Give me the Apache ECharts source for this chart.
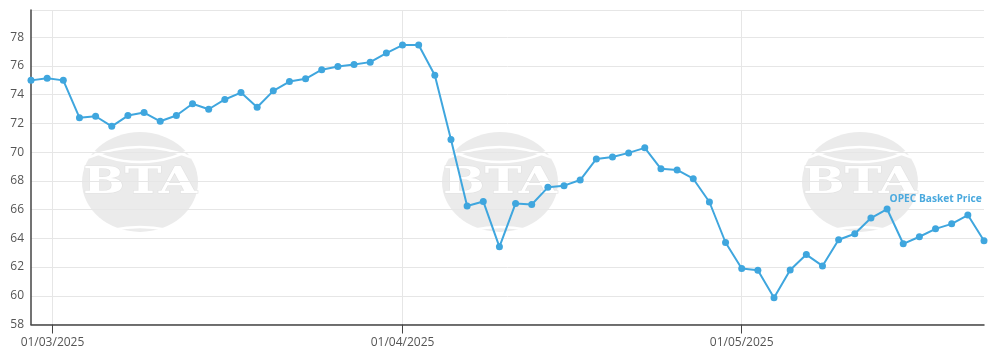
<!DOCTYPE html>
<html>
<head>
<meta charset="utf-8">
<script src="https://cdn.jsdelivr.net/npm/echarts@6/dist/echarts.min.js"></script>
<style>html,body{margin:0;padding:0;background:#fff}#c{width:1000px;height:362px}</style>
</head>
<body>
<div id="c"></div>
<script>
// Trading days (index positions) and OPEC basket price values
const seriesName = 'OPEC Basket Price';
const prices = [
  75.0, 75.15, 75.0, 72.4, 72.5, 71.8, 72.55, 72.76, 72.15, 72.55,
  73.37, 72.99, 73.67, 74.15, 73.13, 74.27, 74.92, 75.11, 75.74, 75.97,
  76.11, 76.27, 76.9, 77.46, 77.46, 75.36, 70.88, 66.25, 66.57, 63.41,
  66.43, 66.36, 67.55, 67.67, 68.06, 69.53, 69.67, 69.95, 70.3, 68.84,
  68.76, 68.15, 66.53, 63.71, 61.9, 61.78, 59.87, 61.8, 62.87, 62.08,
  63.9, 64.32, 65.41, 66.04, 63.62, 64.11, 64.66, 65.01, 65.62, 63.83
];
// Month tick labels and their positions on the trading-day (ordinal) scale
const tickLabels = ['01/03/2025', '01/04/2025', '01/05/2025'];
const tickIndex = [1.33, 23, 44];
const yTicks = [58, 60, 62, 64, 66, 68, 70, 72, 74, 76, 78];

const lineColor = '#3fa6de';
const labelPoint = 53;

const data = prices.map((v, i) => {
  const d = { value: [i, v] };
  if (i === labelPoint) {
    d.label = {
      show: true, formatter: seriesName, position: [6, -11],
      color: '#4aa9de', fontWeight: 'bold', fontSize: 10.2,
      fontFamily: 'Open Sans'
    };
  }
  return d;
});

function watermark(cx) {
  return {
    type: 'group', x: cx, y: 182, silent: true, z: -10,
    children: [
      { type: 'group', scaleY: 0.86, children: [
        { type: 'circle', shape: { cx: 0, cy: 0, r: 58 }, style: { fill: '#ebebeb' } }
      ]},
      { type: 'arc', shape: { cx: 0, cy: 95, r: 130, startAngle: Math.PI * 1.37, endAngle: Math.PI * 1.63 },
        style: { stroke: '#ffffff', lineWidth: 2.5, fill: null } },
      { type: 'arc', shape: { cx: 0, cy: -130, r: 110, startAngle: Math.PI * 0.31, endAngle: Math.PI * 0.69 },
        style: { stroke: '#ffffff', lineWidth: 2.5, fill: null } },
      { type: 'arc', shape: { cx: 0, cy: 175, r: 130, startAngle: Math.PI * 1.37, endAngle: Math.PI * 1.63 },
        style: { stroke: '#ffffff', lineWidth: 2.5, fill: null } },
      { type: 'group', scaleX: 1.3, children: [
        { type: 'text', x: 0, y: 1, style: {
          text: 'BTA', fill: '#ffffff', stroke: '#e2e2e2', lineWidth: 1,
          font: 'bold 38px "DejaVu Serif"', align: 'center', verticalAlign: 'middle'
        } }
      ]}
    ]
  };
}

const chart = echarts.init(document.getElementById('c'), null, { renderer: 'canvas' });
chart.setOption({
  animation: false,
  backgroundColor: '#ffffff',
  graphic: [watermark(140), watermark(500), watermark(860)],
  grid: { left: 31, right: 16, top: 10, bottom: 37.5, containLabel: false },
  xAxis: {
    type: 'value', min: 0, max: prices.length - 1,
    axisLine: { show: true, lineStyle: { color: '#444', width: 1.5 } },
    axisTick: { show: true, customValues: tickIndex, length: 9, lineStyle: { color: '#444' } },
    axisLabel: {
      customValues: tickIndex, margin: 12, color: '#555', fontSize: 12, fontFamily: 'Open Sans',
      formatter: v => { const k = tickIndex.findIndex(t => Math.abs(t - v) < 1e-6); return k >= 0 ? tickLabels[k] : ''; }
    },
    splitLine: { show: true, lineStyle: { color: '#e6e6e6', width: 1 } }
  },
  yAxis: {
    type: 'value', min: yTicks[0], max: 79.9, interval: 2,
    axisLine: { show: true, lineStyle: { color: '#444', width: 1.5 } },
    axisTick: { show: false },
    axisLabel: { color: '#555', fontSize: 12, fontFamily: 'Open Sans', margin: 7, showMaxLabel: false },
    splitLine: { show: true, lineStyle: { color: '#e6e6e6', width: 1 } }
  },
  series: [{
    name: seriesName, type: 'line', data: data,
    symbol: 'circle', symbolSize: 7, showSymbol: true,
    lineStyle: { color: lineColor, width: 2 },
    itemStyle: { color: lineColor },
    z: 5
  }]
});
</script>
</body>
</html>
